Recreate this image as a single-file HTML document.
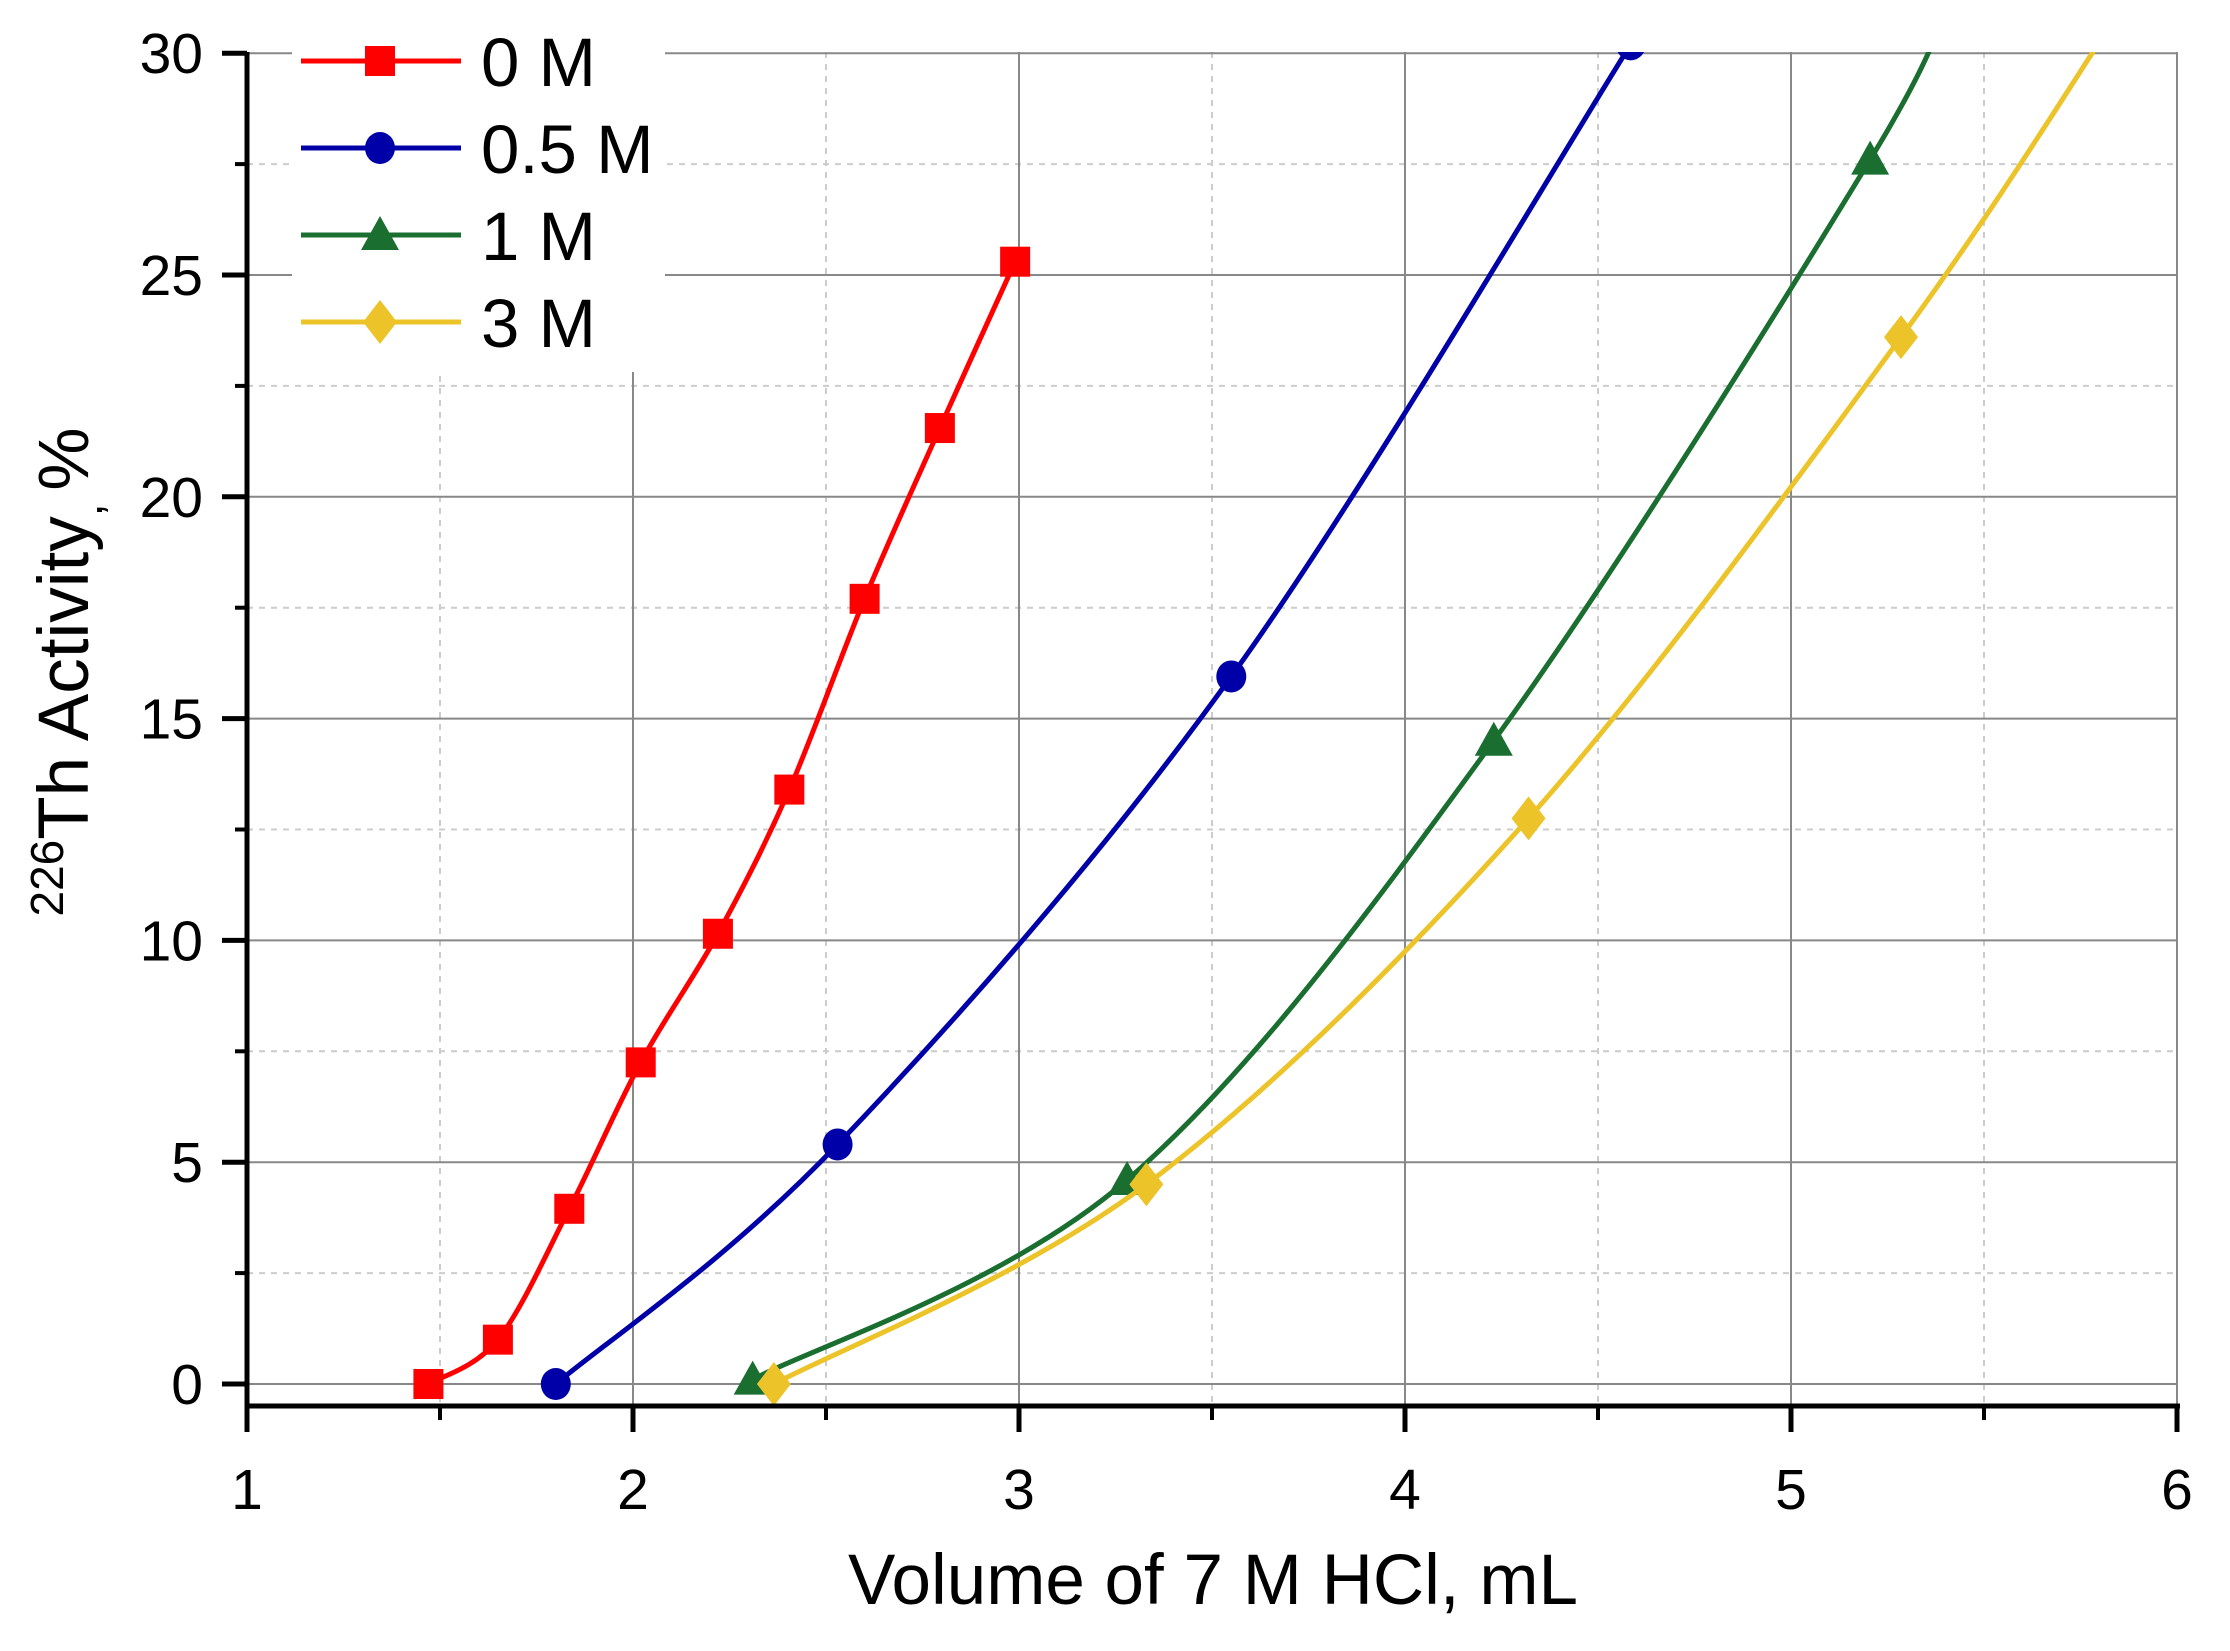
<!DOCTYPE html>
<html><head><meta charset="utf-8"><style>
html,body{margin:0;padding:0;background:#fff;}
svg{display:block;font-family:"Liberation Sans",Arial,sans-serif;}
</style></head><body>
<svg id="chart" width="2230" height="1651" viewBox="0 0 2230 1651">
<defs><clipPath id="plotclip"><rect x="247" y="52" width="1930" height="1353"/></clipPath></defs>
<g id="grid"></g>
<g id="series" clip-path="url(#plotclip)"></g>
<g id="axes"></g>
<g id="legend"></g>
<text x="1213" y="1604" text-anchor="middle" font-size="71">Volume of 7 M HCl, mL</text>
<text transform="translate(88,672) rotate(-90)" text-anchor="middle" font-size="71"><tspan font-size="46" dy="-25">226</tspan><tspan dy="25">Th Activity</tspan><tspan font-size="46" dy="14">, </tspan><tspan dy="-14">%</tspan></text>
</svg>
<script>
const xTicks=[1,2,3,4,5,6];
const yTicks=[0,5,10,15,20,25,30];
const seriesNames=["0 M","0.5 M","1 M","3 M"];
const x0M=[1.47,1.65,1.835,2.02,2.22,2.405,2.60,2.795,2.99];
const y0M=[0,1.0,3.95,7.25,10.15,13.4,17.7,21.55,25.3];
const x05M=[1.80,2.53,3.55,4.585];
const y05M=[0,5.4,15.95,30.2];
const x1M=[2.31,3.28,4.23,5.205];
const y1M=[0.1,4.6,14.5,27.6];
const x1Mext=[5.42];
const y1Mext=[31.5];
const x3M=[2.365,3.33,4.32,5.285];
const y3M=[0,4.5,12.75,23.6];
const x3Mext=[5.84];
const y3Mext=[30.8];

const NS="http://www.w3.org/2000/svg";
const X=v=>247+(v-1)*386;
const Y=v=>1384-v*44.36;
function mk(tag,attrs,parent){const e=document.createElementNS(NS,tag);for(const k in attrs)e.setAttribute(k,attrs[k]);parent.appendChild(e);return e;}
const grid=document.getElementById('grid'),axes=document.getElementById('axes'),ser=document.getElementById('series'),leg=document.getElementById('legend');

for(let v=1.5;v<6;v+=1){const l=mk('line',{x1:X(v),x2:X(v),y1:52,y2:1405,stroke:'#ccc','stroke-width':2,'stroke-dasharray':'6,6'},grid);

}
for(let v=2.5;v<30;v+=5){const l=mk('line',{x1:247,x2:2177,y1:Y(v),y2:Y(v),stroke:'#ccc','stroke-width':2,'stroke-dasharray':'6,6'},grid);

}
xTicks.forEach(v=>{if(v===1)return;const l=mk('line',{x1:X(v),x2:X(v),y1:52,y2:1405,stroke:'#888','stroke-width':2},grid);

});
yTicks.forEach(v=>{const l=mk('line',{x1:247,x2:2177,y1:Y(v),y2:Y(v),stroke:'#888','stroke-width':2},grid);

});

function spline(xs,ys){const p=xs.map((x,i)=>[X(x),Y(ys[i])]);let d=`M${p[0][0]},${p[0][1]}`;
for(let i=0;i<p.length-1;i++){const a=p[Math.max(i-1,0)],b=p[i],c=p[i+1],e=p[Math.min(i+2,p.length-1)];
const c1=[b[0]+(c[0]-a[0])/6,b[1]+(c[1]-a[1])/6],c2=[c[0]-(e[0]-b[0])/6,c[1]-(e[1]-b[1])/6];
d+=` C${c1[0]},${c1[1]} ${c2[0]},${c2[1]} ${c[0]},${c[1]}`;}return d;}
const colors=['#ff0000','#0000a8','#1a6e30','#ecc42a'];
const shapes=['square','circle','triangle','diamond'];
const allX=[x0M,x05M,x1M.concat(x1Mext),x3M.concat(x3Mext)];
const allY=[y0M,y05M,y1M.concat(y1Mext),y3M.concat(y3Mext)];
const mX=[x0M,x05M,x1M,x3M],mY=[y0M,y05M,y1M,y3M];
function marker(shape,cx,cy,col,parent){let e;
if(shape==='square')e=mk('rect',{x:cx-15,y:cy-15,width:30,height:30,fill:col},parent);
else if(shape==='circle')e=mk('ellipse',{cx:cx,cy:cy,rx:15,ry:16,fill:col},parent);
else if(shape==='triangle')e=mk('polygon',{points:`${cx},${cy-19} ${cx+19},${cy+15} ${cx-19},${cy+15}`,fill:col},parent);
else e=mk('polygon',{points:`${cx},${cy-22} ${cx+17},${cy} ${cx},${cy+22} ${cx-17},${cy}`,fill:col},parent);
return e;}
for(let s=0;s<4;s++){const p=mk('path',{d:spline(allX[s],allY[s]),fill:'none',stroke:colors[s],'stroke-width':5},ser);


mX[s].forEach((x,i)=>{const m=marker(shapes[s],X(x),Y(mY[s][i]),colors[s],ser);

});}

const ya=mk('line',{x1:247,x2:247,y1:52,y2:1425,stroke:'#000','stroke-width':5},axes);


const xa=mk('line',{x1:245,x2:2180,y1:1406,y2:1406,stroke:'#000','stroke-width':5},axes);


xTicks.forEach(v=>{const t=mk('line',{x1:X(v),x2:X(v),y1:1406,y2:1432,stroke:'#000','stroke-width':5},axes);


const tx=mk('text',{x:X(v),y:1509,'text-anchor':'middle','font-size':57},axes);tx.textContent=v;

});
for(let v=1.5;v<6;v+=1){const t=mk('line',{x1:X(v),x2:X(v),y1:1406,y2:1420,stroke:'#000','stroke-width':4},axes);

}
yTicks.forEach(v=>{const t=mk('line',{x1:222,x2:247,y1:Y(v),y2:Y(v),stroke:'#000','stroke-width':5},axes);


const tx=mk('text',{x:203,y:Y(v)+20,'text-anchor':'end','font-size':57},axes);tx.textContent=v;

});
for(let v=2.5;v<30;v+=5){const t=mk('line',{x1:235,x2:247,y1:Y(v),y2:Y(v),stroke:'#000','stroke-width':4},axes);

}

const bg=mk('rect',{x:292,y:0,width:373,height:372,fill:'#fff'},leg);


seriesNames.forEach((n,i)=>{const y=61+i*87;const g=mk('g',{},leg);


mk('line',{x1:301,x2:461,y1:y,y2:y,stroke:colors[i],'stroke-width':5},g);
marker(shapes[i],380,y,colors[i],g);
const t=mk('text',{x:481,y:y+25,'font-size':69},g);t.textContent=n;});
</script>
</body></html>
